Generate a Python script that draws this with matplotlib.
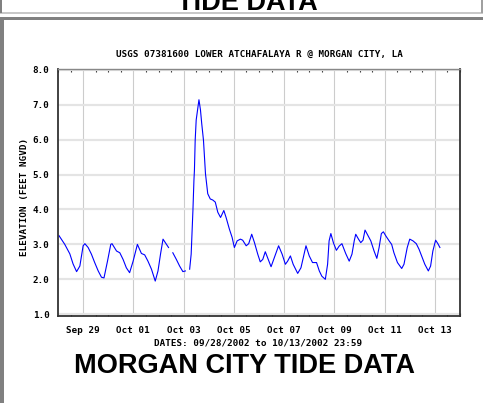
import numpy as np
import pandas as pd
import matplotlib
matplotlib.use('Agg')
import matplotlib.pyplot as plt
import matplotlib.dates as mdates
from matplotlib.patches import Rectangle
from matplotlib.ticker import FixedLocator, MultipleLocator

W, H = 483, 403
MONO = 'DejaVu Sans Mono'

# gauge readings, days after 09/28/2002 00:00 (nan = missing data)
days = [0.04, 0.27, 0.47, 0.60, 0.74, 0.87, 1.00, 1.07, 1.20, 1.33, 1.46, 1.60,
        1.73, 1.83, 1.97, 2.10, 2.15, 2.33, 2.46, 2.59, 2.72, 2.85, 2.99, 3.16,
        3.32, 3.45, 3.58, 3.72, 3.87, 3.98, 4.08, 4.18, 4.27, 4.40, 4.48,
        4.57, 4.71, 4.84, 4.97, 5.07, 5.15,
        5.24, 5.30, 5.37, 5.41, 5.43, 5.46, 5.50, 5.57, 5.61, 5.67, 5.72, 5.79,
        5.87, 5.90, 5.96, 6.06, 6.16, 6.26, 6.36, 6.47, 6.60, 6.69, 6.82, 6.93,
        7.02, 7.13, 7.26, 7.35, 7.49, 7.59, 7.71, 7.82, 7.95, 8.05, 8.15, 8.25,
        8.34, 8.48, 8.61, 8.78, 8.92, 9.05, 9.14, 9.25, 9.36, 9.54, 9.67, 9.87,
        10.00, 10.13, 10.29, 10.40, 10.50, 10.64, 10.73, 10.79, 10.86, 10.96,
        11.08, 11.19, 11.30, 11.45, 11.59, 11.70, 11.79, 11.85, 11.96, 12.05,
        12.14, 12.22, 12.31, 12.45, 12.58, 12.69, 12.78, 12.87, 12.95, 13.05,
        13.18, 13.28, 13.37, 13.51, 13.68, 13.77, 13.90, 14.00, 14.13, 14.26,
        14.37, 14.50, 14.60, 14.74, 14.83, 14.92, 15.03, 15.12, 15.20]
elev = [3.25, 3.00, 2.73, 2.44, 2.22, 2.38, 2.96, 3.02, 2.91, 2.72, 2.48, 2.24,
        2.06, 2.04, 2.52, 3.00, 3.02, 2.81, 2.76, 2.57, 2.33, 2.19, 2.52, 3.00,
        2.74, 2.70, 2.52, 2.29, 1.95, 2.24, 2.72, 3.15, 3.05, 2.91, np.nan,
        2.76, 2.57, 2.38, 2.22, 2.24, np.nan,
        2.29, 2.72, 3.97, 4.83, 5.12, 5.98, 6.56, 6.94, 7.14, 6.85, 6.46, 5.98,
        5.02, 4.83, 4.45, 4.30, 4.27, 4.21, 3.92, 3.77, 3.97, 3.77, 3.44, 3.20,
        2.91, 3.10, 3.15, 3.12, 2.96, 3.02, 3.29, 3.05, 2.72, 2.50, 2.57, 2.79,
        2.62, 2.36, 2.62, 2.96, 2.72, 2.43, 2.52, 2.67, 2.43, 2.17, 2.33, 2.96,
        2.67, 2.48, 2.48, 2.24, 2.09, 2.00, 2.43, 3.10, 3.31, 3.05,
        2.83, 2.95, 3.02, 2.74, 2.52, 2.72, 3.10, 3.29, 3.15, 3.05,
        3.12, 3.41, 3.29, 3.10, 2.81, 2.60, 2.91, 3.31, 3.36, 3.24,
        3.10, 3.00, 2.76, 2.48, 2.31, 2.43, 2.91, 3.15, 3.10, 3.02,
        2.86, 2.62, 2.43, 2.24, 2.38, 2.81, 3.12, 3.02, 2.91]

start = pd.Timestamp('2002-09-28')
end = pd.Timestamp('2002-10-14')
tick_dates = pd.date_range('2002-09-29', '2002-10-13', freq='2D')
tick_labels = ['Sep 29', 'Oct 01', 'Oct 03', 'Oct 05', 'Oct 07', 'Oct 09',
               'Oct 11', 'Oct 13']
y_ticks = [1, 2, 3, 4, 5, 6, 7, 8]

times = start + pd.to_timedelta(days, unit='D')

fig = plt.figure(figsize=(W / 100, H / 100), dpi=100)
fig.patch.set_facecolor('white')


def px_rect(x0, y0, x1, y1, color):
    fig.add_artist(Rectangle((x0 / W, 1 - y1 / H), (x1 - x0) / W, (y1 - y0) / H,
                             transform=fig.transFigure, color=color, lw=0))


# page frame bits
px_rect(0, 12, W, 14, '#c8c8c8')
px_rect(0, 17.5, W, 19.5, '#808080')
px_rect(0, 0, 1.5, 13, '#808080')
px_rect(480.5, 0, W, 13, '#a0a0a0')
px_rect(0, 18, 4, H, '#808080')

fig.text(247 / W, 1 - 10.5 / H, 'TIDE DATA', ha='center', va='baseline',
         fontsize=19.5, weight='bold', family='Liberation Sans')

ax = fig.add_axes([58 / W, 1 - 316 / H, (460 - 58) / W, (316 - 69) / H])
ax.plot(times, elev, color='#0000ff', lw=0.8)

ax.set_xlim(start, end)
ax.set_ylim(0.95, 8.02)
ax.xaxis.set_major_locator(FixedLocator(mdates.date2num(tick_dates)))
ax.xaxis.set_major_formatter(plt.FixedFormatter(tick_labels))
ax.xaxis.set_minor_locator(MultipleLocator(0.5))
ax.set_yticks(y_ticks)
ax.set_yticklabels(['%.1f' % v for v in y_ticks])

ax.yaxis.grid(True, color='#e4e4e4', lw=1.6)
ax.xaxis.grid(True, color='#cccccc', lw=0.8)
ax.set_axisbelow(True)

ax.tick_params(axis='both', which='major', length=0, labelsize=6.7)
ax.tick_params(axis='x', which='major', pad=7)
ax.tick_params(axis='y', which='major', pad=6)
ax.tick_params(axis='x', which='minor', direction='in', length=2.5, width=0.8,
               color='#333333', top=True, bottom=True)
for lab in ax.get_xticklabels() + ax.get_yticklabels():
    lab.set_family(MONO)
    lab.set_weight('bold')

for side in ['left', 'bottom', 'right']:
    ax.spines[side].set_color('#333333')
    ax.spines[side].set_linewidth(1.3)
ax.spines['top'].set_color('#888888')
ax.spines['top'].set_linewidth(1.0)

fig.text(259 / W, 1 - 54 / H, 'USGS 07381600 LOWER ATCHAFALAYA R @ MORGAN CITY, LA',
         ha='center', va='center', fontsize=6.7, family=MONO, weight='bold')
fig.text(25 / W, 1 - 196.5 / H, 'ELEVATION (FEET NGVD)', rotation=90,
         ha='center', va='center', fontsize=6.7, family=MONO, weight='bold')
fig.text(258 / W, 1 - 343 / H, 'DATES: 09/28/2002 to 10/13/2002 23:59',
         ha='center', va='center', fontsize=6.7, family=MONO, weight='bold')
fig.text(244 / W, 1 - 373 / H, 'MORGAN CITY TIDE DATA', ha='center',
         va='baseline', fontsize=19.5, weight='bold', family='Liberation Sans')

fig.savefig('out.png', dpi=100)
